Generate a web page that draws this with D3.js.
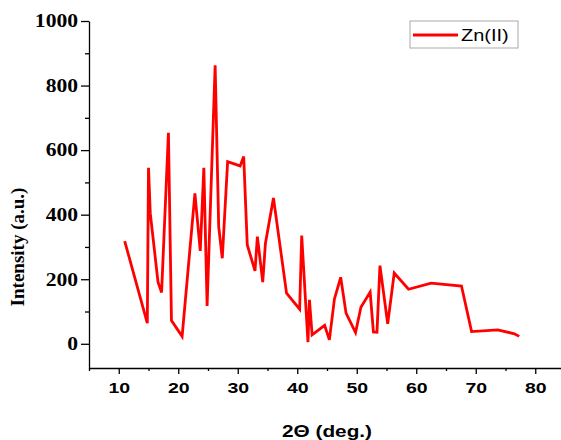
<!DOCTYPE html>
<html>
<head>
<meta charset="utf-8">
<script src="https://cdn.jsdelivr.net/npm/d3@7"></script>
<style>
  body { margin: 0; background: #fff; }
  svg { display: block; }
</style>
</head>
<body>
<div id="chart"></div>
<script>
// XRD pattern, Zn(II) complex
const twoTheta = [11.0, 14.8, 15.0, 15.3, 16.6, 17.2, 18.35, 18.86, 20.65, 22.8, 23.7, 24.3, 24.85,
  26.2, 26.8, 27.4, 28.3, 30.4, 31.0, 31.6, 32.9, 33.3, 34.2, 34.65, 36.0, 38.2, 40.4, 40.75,
  41.8, 42.05, 42.5, 44.6, 45.4, 46.25, 47.3, 48.2, 49.8, 50.7, 52.25, 52.8, 53.4, 53.9, 55.2,
  56.3, 58.7, 62.5, 67.6, 69.3, 73.7, 76.5, 77.3];
const intensity = [318, 64, 545, 404, 191, 159, 654, 72, 23, 466, 288, 545, 117,
  863, 363, 265, 564, 551, 580, 306, 226, 332, 191, 311, 452, 157, 107, 335,
  5, 136, 28, 57, 12, 139, 206, 95, 35, 113, 160, 37, 36, 242, 62,
  219, 169, 188, 179, 38, 43, 31, 23];
const xTicks = [10, 20, 30, 40, 50, 60, 70, 80];
const yTicks = [0, 200, 400, 600, 800, 1000];
const seriesName = "Zn(II)";

const width = 561, height = 440;
const margin = {left: 89, top: 21, bottom: 72};

const svg = d3.select("#chart").append("svg")
  .attr("width", width).attr("height", height);

const x = d3.scaleLinear().domain([5, 85]).range([margin.left, margin.left + 80 * 5.95]);
const y = d3.scaleLinear().domain([-75, 1000]).range([height - margin.bottom, margin.top]);

// minor ticks
svg.append("g")
  .attr("transform", "translate(0," + (height - margin.bottom) + ")")
  .call(d3.axisBottom(x).tickValues(d3.range(5, 90, 10)).tickSize(3).tickFormat(""))
  .call(g => g.select(".domain").remove());
svg.append("g")
  .attr("transform", "translate(" + margin.left + ",0)")
  .call(d3.axisLeft(y).tickValues(d3.range(100, 1000, 200)).tickSize(4).tickFormat(""))
  .call(g => g.select(".domain").remove());

let xAxis = svg.append("g")
  .attr("transform", "translate(0," + (height - margin.bottom) + ")")
  .attr("font-family", "'Liberation Sans', Arial, sans-serif")
  .call(d3.axisBottom(x).tickValues(xTicks).tickSize(6).tickSizeOuter(0).tickFormat(d3.format("d")));
xAxis.selectAll("text")
  .attr("y", 14)
  .attr("transform", "scale(1.3,1)")
  .attr("font-weight", "bold")
  .style("font-size", "15px").attr("fill", "#000");

let yAxis = svg.append("g")
  .attr("transform", "translate(" + margin.left + ",0)")
  .call(d3.axisLeft(y).tickValues(yTicks).tickSize(8).tickSizeOuter(0).tickFormat(d3.format("d")));
yAxis.attr("font-family", "'Liberation Serif', 'Times New Roman', serif");
yAxis.selectAll("text")
  .attr("x", -11 / 1.2)
  .attr("transform", "scale(1.2,1)")
  .attr("font-weight", "bold")
  .style("font-size", "18px").attr("fill", "#000");

svg.selectAll(".domain, .tick line").attr("stroke", "#000").attr("stroke-width", 1.3);

// axis titles
svg.append("text")
  .attr("transform", "translate(" + (327) + ",437) scale(1.3,1)")
  .attr("text-anchor", "middle")
  .style("font-family", "'Liberation Sans', Arial, sans-serif")
  .style("font-weight", "bold").style("font-size", "16px")
  .text("2\u0398 (deg.)");

svg.append("text")
  .attr("transform", "translate(24,247) rotate(-90)")
  .attr("text-anchor", "middle")
  .style("font-family", "'Liberation Serif', 'Times New Roman', serif")
  .style("font-weight", "bold").style("font-size", "19px")
  .text("Intensity (a.u.)");

// data line
const line = d3.line().x((d, i) => x(twoTheta[i])).y(d => y(d));
svg.append("path")
  .datum(intensity)
  .attr("fill", "none")
  .attr("stroke", "#ff0000")
  .attr("stroke-width", 2.8)
  .attr("stroke-linejoin", "miter")
  .attr("d", line);

// legend
let legend = svg.append("g").attr("transform", "translate(410,21)");
legend.append("rect")
  .attr("width", 108).attr("height", 27)
  .attr("fill", "#fff").attr("stroke", "#aaa").attr("stroke-width", 1);
legend.append("line")
  .attr("x1", 3).attr("x2", 48).attr("y1", 14).attr("y2", 14)
  .attr("stroke", "#ff0000").attr("stroke-width", 2.8);
legend.append("text")
  .attr("transform", "translate(51,20) scale(1.25,1)")
  .style("font-family", "'Liberation Sans', Arial, sans-serif")
  .style("font-size", "16px")
  .text(seriesName);
</script>
</body>
</html>
